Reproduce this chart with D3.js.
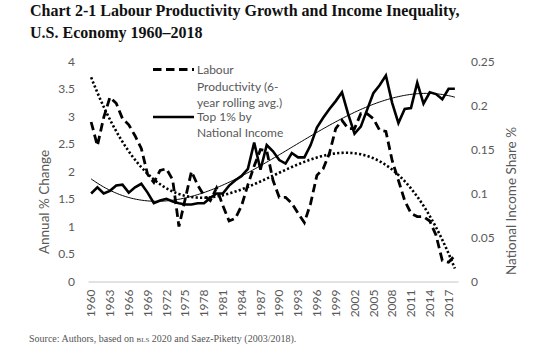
<html>
<head>
<meta charset="utf-8">
<style>
body { margin: 0; background: #fff; }
svg { background: #fff; }
.title { font: bold 16px "Liberation Serif", serif; fill: #111; }
.source { font: 10px "Liberation Serif", serif; fill: #555; }
.axis text { font: 12px Lato, sans-serif; fill: #595959; }
.axis-title { font: 13.5px Lato, sans-serif; fill: #595959; }
.legend text { font: 12px Lato, sans-serif; fill: #595959; }
.axis--x .domain { stroke: #d9d9d9; stroke-width: 1.5px; }
.axis--y .domain { display: none; }
.prod { fill: none; stroke: #000; stroke-width: 2.8px; stroke-dasharray: 8.5,4.5; }
.top1 { fill: none; stroke: #000; stroke-width: 2.6px; stroke-linejoin: miter; }
.prod-trend { fill: none; stroke: #000; stroke-width: 2.6px; stroke-dasharray: 2.2,2.2; }
.top1-trend { fill: none; stroke: #000; stroke-width: 1px; }
</style>
</head>
<body>
<svg width="559" height="350"></svg>

<script src="https://cdn.jsdelivr.net/npm/d3@7"></script>
<script>

// years on the category axis
var years = d3.range(1960, 2019);

// labour productivity, annual % change (6-year rolling avg.), left axis
var productivity = [
  2.90, 2.47, 2.98, 3.35, 3.24, 2.96, 2.85, 2.65, 2.42, 1.95,
  1.80, 2.02, 2.05, 1.85, 1.00, 1.50, 2.00, 1.75, 1.56, 1.47,
  1.70, 1.38, 1.10, 1.15, 1.38, 1.76, 2.10, 2.40, 2.38, 1.84,
  1.53, 1.53, 1.42, 1.24, 1.07, 1.42, 1.93, 2.05, 2.33, 2.78,
  2.93, 2.78, 2.78, 3.05, 3.05, 2.96, 2.75, 2.73, 2.20, 1.84,
  1.47, 1.24, 1.18, 1.18, 1.10, 0.84, 0.38, 0.35, 0.47
];

// top 1% share of national income, right axis
var top1 = [
  0.100, 0.107, 0.100, 0.103, 0.109, 0.110, 0.101, 0.107, 0.111, 0.101,
  0.089, 0.092, 0.094, 0.091, 0.089, 0.0875, 0.0875, 0.089, 0.089, 0.095,
  0.100, 0.100, 0.109, 0.115, 0.120, 0.128, 0.158, 0.127, 0.155, 0.148,
  0.138, 0.134, 0.146, 0.141, 0.141, 0.155, 0.175, 0.186, 0.196, 0.205,
  0.215, 0.190, 0.168, 0.176, 0.195, 0.214, 0.223, 0.234, 0.203, 0.180,
  0.196, 0.197, 0.226, 0.202, 0.215, 0.213, 0.207, 0.219, 0.219
];

var leftTicks = [0, 0.5, 1, 1.5, 2, 2.5, 3, 3.5, 4];
var rightTicks = [0, 0.05, 0.1, 0.15, 0.2, 0.25];
var yearTicks = years.filter(function(d) { return (d - 1960) % 3 === 0; });

var svg = d3.select("svg");

// scales
var x = d3.scaleBand().domain(years).range([88, 458]);
var xc = function(d) { return x(d) + x.bandwidth() / 2; };
var yL = d3.scaleLinear().domain([0, 4]).range([281.5, 61.5]);
var yR = d3.scaleLinear().domain([0, 0.25]).range([281.5, 61.5]);

// least squares polynomial, like the Excel trendline
function polyfit(xs, ys, deg) {
  var n = deg + 1, A = [], i, j, k;
  for (i = 0; i < n; i++) { A.push(new Array(n + 1).fill(0)); }
  xs.forEach(function(xv, m) {
    for (i = 0; i < n; i++) {
      for (j = 0; j < n; j++) A[i][j] += Math.pow(xv, i + j);
      A[i][n] += ys[m] * Math.pow(xv, i);
    }
  });
  for (i = 0; i < n; i++) {
    var p = i;
    for (k = i + 1; k < n; k++) if (Math.abs(A[k][i]) > Math.abs(A[p][i])) p = k;
    var tmp = A[i]; A[i] = A[p]; A[p] = tmp;
    for (k = i + 1; k < n; k++) {
      var f = A[k][i] / A[i][i];
      for (j = i; j <= n; j++) A[k][j] -= f * A[i][j];
    }
  }
  var c = new Array(n).fill(0);
  for (i = n - 1; i >= 0; i--) {
    var s = A[i][n];
    for (j = i + 1; j < n; j++) s -= A[i][j] * c[j];
    c[i] = s / A[i][i];
  }
  return function(xv) {
    return c.reduce(function(acc, cc, ii) { return acc + cc * Math.pow(xv, ii); }, 0);
  };
}

var tnorm = function(yr) { return (yr - 1989) / 29; };
var prodFit = polyfit(years.map(tnorm), productivity, 3);
var topFit = polyfit(years.map(tnorm), top1, 3);
var fine = d3.range(1960, 2018.01, 0.25);
var xf = d3.scaleLinear().domain([1960, 2018]).range([xc(1960), xc(2018)]);

// axes
var gx = svg.append("g")
  .attr("class", "axis axis--x")
  .attr("transform", "translate(0,281.5)")
  .call(d3.axisBottom(x).tickValues(yearTicks).tickSize(0).tickSizeOuter(0).tickPadding(0));
gx.selectAll(".tick text")
  .attr("transform", "rotate(-90)")
  .attr("x", -8)
  .attr("y", 0)
  .attr("dy", "0.35em")
  .style("text-anchor", "end");

svg.append("g")
  .attr("class", "axis axis--y")
  .attr("transform", "translate(75,0)")
  .call(d3.axisLeft(yL).tickValues(leftTicks).tickSize(0).tickPadding(0)
    .tickFormat(function(d) { return String(d); }));

svg.append("g")
  .attr("class", "axis axis--y")
  .attr("transform", "translate(471,0)")
  .call(d3.axisRight(yR).tickValues(rightTicks).tickSize(0).tickPadding(0)
    .tickFormat(function(d) { return String(+d.toFixed(2)); }));

svg.append("text")
  .attr("class", "axis-title")
  .attr("transform", "translate(49,202) rotate(-90)")
  .attr("text-anchor", "middle")
  .text("Annual % Change");

svg.append("text")
  .attr("class", "axis-title")
  .attr("transform", "translate(516,201) rotate(-90)")
  .attr("text-anchor", "middle")
  .text("National Income Share %");

// trendlines
svg.append("path")
  .attr("class", "top1-trend")
  .attr("d", d3.line()
    .x(function(d) { return xf(d); })
    .y(function(d) { return yR(topFit(tnorm(d))); })(fine));

svg.append("path")
  .attr("class", "prod-trend")
  .attr("d", d3.line()
    .x(function(d) { return xf(d); })
    .y(function(d) { return yL(prodFit(tnorm(d))); })(fine));

// series
svg.append("path")
  .attr("class", "prod")
  .attr("d", d3.line()
    .x(function(d, i) { return xc(years[i]); })
    .y(function(d) { return yL(d); })(productivity));

svg.append("path")
  .attr("class", "top1")
  .attr("d", d3.line()
    .x(function(d, i) { return xc(years[i]); })
    .y(function(d) { return yR(d); })(top1));

// legend
var lg = svg.append("g").attr("class", "legend");
lg.append("line").attr("class", "prod")
  .attr("x1", 153).attr("x2", 194).attr("y1", 69.5).attr("y2", 69.5);
lg.append("line").attr("class", "top1")
  .attr("x1", 153).attr("x2", 194).attr("y1", 117).attr("y2", 117);
var legendLines = [
  ["Labour", 74], ["Productivity (6-", 91], ["year rolling avg.)", 107],
  ["Top 1% by", 121], ["National Income", 137]
];
lg.selectAll("text.l")
  .data(legendLines)
  .enter().append("text")
  .attr("class", "l")
  .attr("x", 197)
  .attr("y", function(d) { return d[1]; })
  .text(function(d) { return d[0]; });

// title and source
svg.append("text").attr("class", "title").attr("x", 30).attr("y", 16)
  .text("Chart 2-1 Labour Productivity Growth and Income Inequality,");
svg.append("text").attr("class", "title").attr("x", 30).attr("y", 38)
  .text("U.S. Economy 1960\u20132018");

var src = svg.append("text").attr("class", "source").attr("x", 29).attr("y", 342);
src.append("tspan").text("Source: Authors, based on ");
src.append("tspan").style("font-variant", "small-caps").text("bls");
src.append("tspan").text(" 2020 and Saez-Piketty (2003/2018).");

</script>
</body>
</html>
